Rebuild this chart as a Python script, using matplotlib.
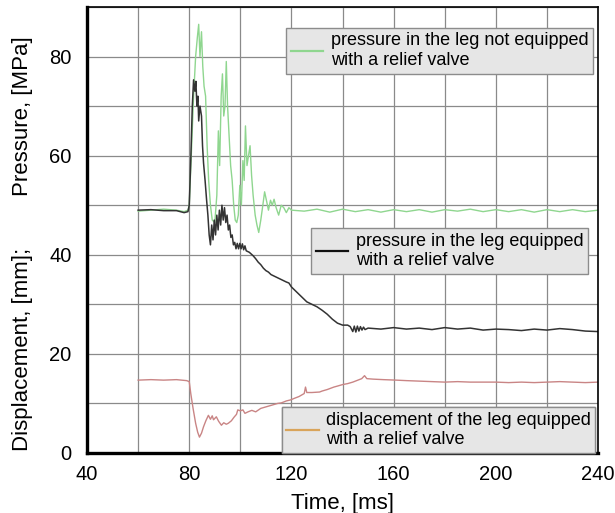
import matplotlib
matplotlib.use("Agg")
from matplotlib import pyplot as plt
from matplotlib.lines import Line2D
from matplotlib.ticker import MultipleLocator
from matplotlib.transforms import ScaledTranslation

plt.rcParams['font.family'] = ['Liberation Sans', 'DejaVu Sans']

# pressure in the leg not equipped with a relief valve
t_nv = [60, 65, 70, 75, 78, 79.5, 80, 80.8, 81.7, 82.5, 83.2, 83.7, 84.2, 84.8, 85.3, 85.8, 86.4, 87, 87.6, 88.3,
        89, 90, 90.8, 91.4, 91.9, 92.5, 93, 93.5, 94, 94.5, 95, 95.6, 96.2, 96.8, 97.4, 98, 98.6, 99.2, 99.8, 100.4,
        101, 101.5, 102, 102.6, 103.2, 103.8, 104.4, 105, 105.8, 106.5, 107.2, 108, 108.8, 109.5, 110.2, 111, 111.8,
        112.5, 113.2, 114, 115, 116, 117, 118, 119, 120, 125, 130, 135, 140, 145, 150, 155, 160, 165, 170, 175, 180,
        185, 190, 195, 200, 205, 210, 215, 220, 225, 230, 235, 240]
p_nv = [48.8, 49.0, 49.2, 49.0, 48.7, 49, 50, 60, 72, 80, 84, 86.5, 80, 85, 78, 74, 72, 62, 55, 50,
        47, 46.5, 52, 65, 58, 72, 76.5, 68, 70, 79, 70, 64, 58, 55, 50, 47, 46.5, 48, 54, 50,
        59, 55, 66, 58, 60, 62, 56, 52, 48, 46, 44.5, 47, 50, 52.7, 51, 49, 51,
        50, 51.2, 49.5, 48, 50, 49.5, 48.5, 49.5, 49, 48.8, 49.2, 48.6, 49.2, 48.7, 49.1, 48.6, 49.1, 48.7, 49.1, 48.6, 49.1,
        48.8, 49.2, 48.7, 49.1, 48.7, 49.1, 48.6, 49.1, 48.7, 49.1, 48.7, 49.0]

# pressure in the leg equipped with a relief valve
t_v = [60, 65, 70, 75, 78, 79.5, 80, 80.6, 81.2, 81.7, 82.2, 82.6, 83, 83.4, 83.7, 84.2, 84.8, 85.2, 85.6, 86.2,
       86.8, 87.3, 87.8, 88.3, 88.8, 89.3, 89.8, 90.3, 90.8, 91.3, 91.8, 92.3, 92.8, 93.3, 93.8, 94.3, 94.8, 95.3,
       95.8, 96.3, 96.8, 97.3, 97.8, 98.3, 98.8, 99.3, 99.8, 100.3, 100.8, 101.3, 101.8, 102.3, 103.5, 105, 106, 107,
       108, 109, 110, 111, 112, 114, 116, 118, 119, 120, 122, 124, 126, 128, 130, 132, 134, 136, 138, 140, 142, 143,
       144, 144.6, 145.2, 145.8, 146.4, 147, 147.6, 148.2, 148.8, 150, 155, 160, 165, 170, 175, 180, 185, 190, 195,
       200, 205, 210, 215, 220, 225, 230, 235, 240]
p_v = [49, 49.1, 48.9, 48.9, 48.5, 48.7, 50, 59, 70, 75.3, 73, 75, 70, 72, 67, 70, 68, 62, 58.5, 55,
       51, 48, 44, 42, 46, 43, 47, 44, 48, 45, 49, 46, 50, 47, 49.5, 46.5, 48, 45,
       46, 43.5, 44, 42, 42.5, 41.2, 42.3, 41.2, 42.3, 41.2, 42.2, 41, 41.8, 40.8, 40.5, 39.8, 39.2, 38.5,
       38, 37.3, 36.8, 36.5, 36, 35.5, 35, 34.5, 34.3, 33.5, 32.5, 31.5, 30.5, 30, 29.5, 28.8, 28, 27, 26.2, 25.8, 25.8, 25.5,
       24.5, 25.6, 24.4, 25.6, 24.6, 25.5, 24.8, 25.4, 24.9, 25.2, 25.0, 25.3, 25, 25.2, 24.9, 25.3, 25, 25.2, 24.8,
       25, 24.9, 24.7, 25, 24.8, 25.1, 24.9, 24.6, 24.5]

# displacement of the leg equipped with a relief valve
t_d = [60, 65, 70, 75, 79, 80, 80.6, 81.5, 82.5, 83.3, 84, 84.8, 85.6, 86.5, 87.5, 88.3, 89, 89.5, 90.6, 91.5,
       92.6, 93.5, 94.5, 95.3, 96.5, 97.5, 98.5, 99, 100, 101, 101.8, 103, 104.5, 106, 108, 110, 112, 114.6, 116,
       118, 119.6, 121, 123, 125, 125.5, 126, 128, 131, 132, 134, 136.6, 138, 140, 142, 144, 146, 147.5, 148.6,
       149.5, 152, 156, 161, 165, 170, 175, 180, 185, 190, 195, 200, 205, 210, 215, 220, 225, 230, 235, 240]
d_v = [14.7, 14.8, 14.7, 14.8, 14.6, 14.4, 12, 9, 6, 4.2, 3.2, 4, 5.3, 6.5, 7.6, 6.8, 7.5, 6.7, 7.3, 6.4,
       5.6, 6.1, 5.8, 6, 6.5, 7.2, 7.8, 8.7, 8.5, 8.7, 8, 8.3, 8.6, 8.3, 9, 9.3, 9.6, 10, 10.1,
       10.5, 10.7, 11, 11.4, 12, 13.3, 12.2, 12.2, 12.3, 12.5, 12.8, 13.3, 13.5, 13.8, 14, 14.3, 14.7, 15, 15.6,
       15, 14.9, 14.8, 14.7, 14.6, 14.5, 14.4, 14.3, 14.4, 14.3, 14.3, 14.3, 14.2, 14.3, 14.2, 14.3, 14.4, 14.3, 14.2, 14.3]

labels = ["pressure in the leg not equipped\nwith a relief valve",
          "pressure in the leg equipped\nwith a relief valve",
          "displacement of the leg equipped\nwith a relief valve"]

fig = plt.figure(figsize=(6.15, 5.13), dpi=100)
ax = fig.add_axes([0.1415, 0.117, 0.831, 0.8694])

ax.plot(t_nv, p_nv, color="#8fd68f", linewidth=1.0)
ax.plot(t_v, p_v, color="#333333", linewidth=1.1)
ax.plot(t_d, d_v, color="#c98585", linewidth=1.0)

ax.set_xlim(40, 240)
ax.set_ylim(0, 90)
ax.xaxis.set_major_locator(MultipleLocator(40))
ax.xaxis.set_minor_locator(MultipleLocator(20))
ax.yaxis.set_major_locator(MultipleLocator(20))
ax.yaxis.set_minor_locator(MultipleLocator(10))
ax.grid(True, which="both", color="#8a8a8a", linewidth=0.9)
ax.set_axisbelow(True)
ax.tick_params(which="both", length=0, labelsize=14.5)
ax.tick_params(axis="x", pad=9)
ax.tick_params(axis="y", pad=11)

for s in ["left", "bottom"]:
    ax.spines[s].set_linewidth(2.4)
for s in ["top", "right"]:
    ax.spines[s].set_linewidth(1.2)

ax.set_xlabel("Time, [ms]", fontsize=16, labelpad=6)
fig.text(0.036, 0.774, "Pressure, [MPa]", rotation=90, fontsize=16, ha="center", va="center")
fig.text(0.036, 0.318, "Displacement, [mm];", rotation=90, fontsize=16, ha="center", va="center")

leg_colors = ["#8fd68f", "#111111", "#d9a45a"]
leg_pos = [(0.39, 0.953), (0.439, 0.504), (0.381, 0.103)]
for lab, c, pos in zip(labels, leg_colors, leg_pos):
    h = Line2D([], [], color=c, linewidth=1.6)
    leg = ax.legend([h], [lab], loc="upper left", bbox_to_anchor=pos, borderaxespad=0,
                    fontsize=13, frameon=True, fancybox=False, framealpha=1,
                    facecolor="#e6e6e6", edgecolor="#8c8c8c", handlelength=1.8,
                    handletextpad=0.4, borderpad=0.25, labelspacing=0.1)
    leg.get_frame().set_linewidth(1.0)
    ax.add_artist(leg)

# keep the last x tick label inside the figure
fig.canvas.draw()
last = ax.get_xticklabels()[-1]
last.set_transform(last.get_transform() + ScaledTranslation(-4 / 72, 0, fig.dpi_scale_trans))

plt.savefig("out.png")
